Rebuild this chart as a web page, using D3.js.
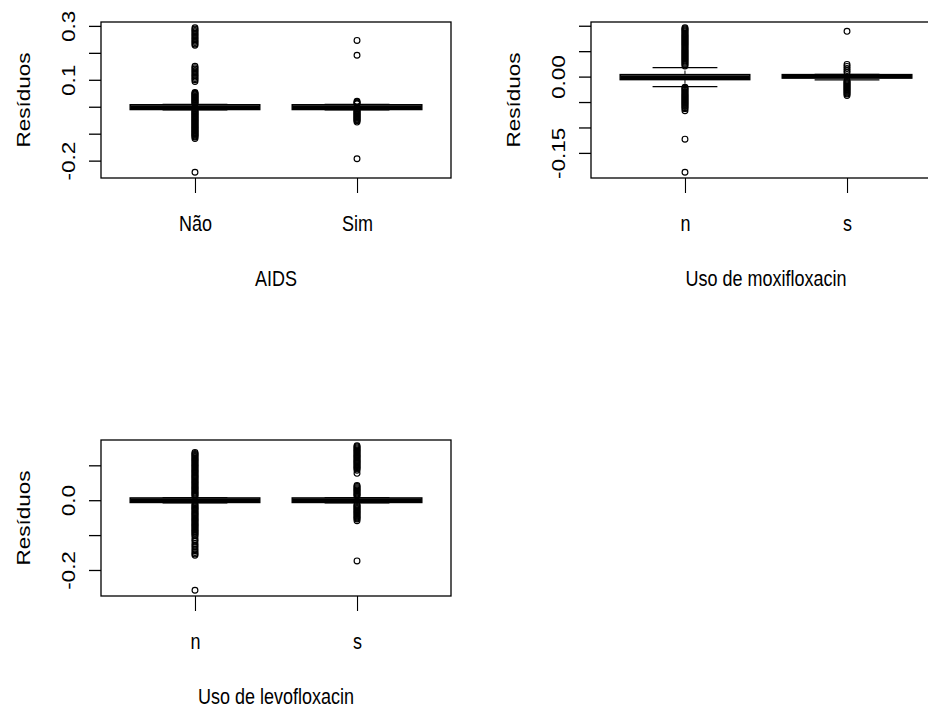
<!DOCTYPE html>
<html>
<head>
<meta charset="utf-8">
<script src="https://cdn.jsdelivr.net/npm/d3@7"></script>
<style>
  html, body { margin: 0; padding: 0; background: #fff; }
  svg { display: block; }
  text { font-family: "Liberation Sans", Arial, Helvetica, sans-serif; fill: #000; }
</style>
</head>
<body>
<svg id="chart" width="928" height="708"></svg>
<script>
// ---------- data ----------
// box statistics per group: [lower whisker, Q1, median, Q3, upper whisker]
const yTitle = "Resíduos";

const aidsCategories = ["Não", "Sim"];
const aidsTitle = "AIDS";
const aidsBoxes = [
  [-0.0115, -0.0105, -0.0015, 0.0075, 0.0085],
  [-0.0115, -0.0105, -0.0015, 0.0075, 0.0085]
];
const aidsOutNao = [
  0.293, 0.288, 0.283, 0.278, 0.273, 0.268, 0.263, 0.258, 0.253, 0.248,
  0.243, 0.238, 0.233, 0.228,
  0.150, 0.145, 0.140, 0.135, 0.130, 0.125, 0.120, 0.115, 0.110, 0.105,
  0.100, 0.094,
  0.053, 0.050, 0.047, 0.044, 0.041, 0.038, 0.035, 0.032, 0.029, 0.026,
  0.023, 0.020, 0.017, 0.014, 0.011,
  -0.013, -0.016, -0.019, -0.022, -0.025, -0.028, -0.031, -0.034, -0.037,
  -0.040, -0.043, -0.046, -0.049, -0.052, -0.055, -0.058, -0.061, -0.064,
  -0.067, -0.070, -0.073, -0.076, -0.079, -0.082, -0.085, -0.088, -0.091,
  -0.094, -0.097, -0.100, -0.103, -0.106, -0.109, -0.112, -0.118,
  -0.243
];
const aidsOutSim = [
  0.246, 0.191,
  0.020, 0.017, 0.014, 0.011,
  -0.013, -0.016, -0.019, -0.022, -0.025, -0.028, -0.031, -0.034, -0.037,
  -0.040, -0.043, -0.046, -0.049, -0.052, -0.057,
  -0.193
];
const aidsYTicks = [-0.2, -0.1, 0.0, 0.1, 0.2, 0.3];
const aidsYLabels = ["-0.2", "", "", "0.1", "", "0.3"];

const moxiCategories = ["n", "s"];
const moxiTitle = "Uso de moxifloxacin";
const moxiBoxes = [
  [-0.0196, -0.006, -0.001, 0.004, 0.0176],
  [-0.0065, -0.003, 0.0005, 0.004, 0.0045]
];
const moxiOutN = [
  0.096, 0.094, 0.092, 0.090, 0.088, 0.086, 0.084, 0.082, 0.080, 0.078,
  0.076, 0.074, 0.072, 0.070, 0.068, 0.066, 0.064, 0.062, 0.060, 0.058,
  0.056, 0.054, 0.052, 0.050, 0.048, 0.046, 0.044, 0.042, 0.040, 0.038,
  0.036, 0.034, 0.032, 0.030, 0.028, 0.026, 0.024, 0.021,
  -0.021, -0.023, -0.025, -0.027, -0.029, -0.031, -0.033, -0.035, -0.037,
  -0.039, -0.041, -0.043, -0.045, -0.047, -0.049, -0.051, -0.053, -0.055,
  -0.057, -0.059, -0.061, -0.063, -0.067,
  -0.123, -0.188
];
const moxiOutS = [
  0.089,
  0.024, 0.020, 0.016, 0.012, 0.008,
  -0.008, -0.010, -0.012, -0.014, -0.016, -0.018, -0.020, -0.022, -0.024,
  -0.026, -0.028, -0.030, -0.032, -0.034, -0.037
];
const moxiYTicks = [-0.15, -0.10, -0.05, 0.00, 0.05, 0.10];
const moxiYLabels = ["-0.15", "", "", "0.00", "", ""];

const levoCategories = ["n", "s"];
const levoTitle = "Uso de levofloxacin";
const levoBoxes = [
  [-0.0075, -0.0066, 0.0, 0.0066, 0.0075],
  [-0.0075, -0.0066, 0.0, 0.0066, 0.0075]
];
const levoOutN = [
  0.137, 0.134, 0.131, 0.128, 0.125, 0.122, 0.119, 0.116, 0.113, 0.110,
  0.107, 0.104, 0.101, 0.098, 0.095, 0.092, 0.089, 0.086, 0.083, 0.080,
  0.077, 0.074, 0.071, 0.068, 0.065, 0.062, 0.059, 0.056, 0.053, 0.050,
  0.047, 0.044, 0.041, 0.038, 0.035, 0.032, 0.029, 0.026, 0.023, 0.020,
  0.017, 0.014, 0.011,
  -0.011, -0.014, -0.017, -0.020, -0.023, -0.026, -0.029, -0.032, -0.035,
  -0.038, -0.041, -0.044, -0.047, -0.050, -0.053, -0.056, -0.059, -0.062,
  -0.065, -0.068, -0.071, -0.074, -0.077, -0.080, -0.083, -0.086, -0.089,
  -0.092, -0.095, -0.098,
  -0.101, -0.107, -0.113, -0.117, -0.124, -0.129, -0.134, -0.140, -0.145,
  -0.150, -0.154, -0.158,
  -0.258
];
const levoOutS = [
  0.156, 0.153, 0.150, 0.147, 0.144, 0.141, 0.138, 0.135, 0.132, 0.129,
  0.126, 0.123, 0.120, 0.117, 0.114, 0.111, 0.108, 0.105, 0.102, 0.099,
  0.096, 0.093, 0.090, 0.086, 0.077,
  0.042, 0.039, 0.036, 0.033, 0.030, 0.027, 0.024, 0.021, 0.018, 0.015, 0.012,
  -0.012, -0.015, -0.018, -0.021, -0.024, -0.027, -0.030, -0.033, -0.036,
  -0.039, -0.042, -0.045, -0.048, -0.051, -0.054, -0.059,
  -0.174
];
const levoYTicks = [-0.2, -0.1, 0.0, 0.1];
const levoYLabels = ["-0.2", "", "0.0", ""];

// ---------- layout ----------
const W = 350, H = 156;
const SX = 1.25;           // vertical stretch of the text glyphs
const panels = [
  { cats: aidsCategories, boxes: aidsBoxes, outs: [aidsOutNao, aidsOutSim],
    ticks: aidsYTicks, labels: aidsYLabels, title: aidsTitle, left: 101, top: 22 },
  { cats: moxiCategories, boxes: moxiBoxes, outs: [moxiOutN, moxiOutS],
    ticks: moxiYTicks, labels: moxiYLabels, title: moxiTitle, left: 591, top: 22 },
  { cats: levoCategories, boxes: levoBoxes, outs: [levoOutN, levoOutS],
    ticks: levoYTicks, labels: levoYLabels, title: levoTitle, left: 101, top: 440 }
];

const svg = d3.select("#chart");

panels.forEach(p => {
  const g = svg.append("g");

  const x = d3.scaleLinear().domain([0.42, 2.58]).range([p.left, p.left + W]);
  const all = p.boxes.flat().concat(p.outs.flat());
  const [lo, hi] = d3.extent(all);
  const pad = (hi - lo) * 0.04;
  const y = d3.scaleLinear().domain([lo - pad, hi + pad]).range([p.top + H, p.top]);

  // boxes
  p.boxes.forEach((b, i) => {
    const [wl, q1, med, q3, wh] = b;
    const c = i + 1;
    const bg = g.append("g");
    // whiskers
    bg.append("line").attr("x1", x(c)).attr("x2", x(c))
      .attr("y1", y(q3)).attr("y2", y(wh))
      .attr("stroke", "#000").attr("stroke-width", 1).attr("stroke-dasharray", "4,3");
    bg.append("line").attr("x1", x(c)).attr("x2", x(c))
      .attr("y1", y(q1)).attr("y2", y(wl))
      .attr("stroke", "#000").attr("stroke-width", 1).attr("stroke-dasharray", "4,3");
    // staples
    [wl, wh].forEach(v => {
      bg.append("line").attr("x1", x(c - 0.2)).attr("x2", x(c + 0.2))
        .attr("y1", y(v)).attr("y2", y(v))
        .attr("stroke", "#000").attr("stroke-width", 1.3);
    });
    // box
    bg.append("rect")
      .attr("x", x(c - 0.4)).attr("width", x(c + 0.4) - x(c - 0.4))
      .attr("y", y(q3)).attr("height", y(q1) - y(q3))
      .attr("fill", "#fff").attr("stroke", "#000").attr("stroke-width", 1.4);
    // median
    bg.append("line").attr("x1", x(c - 0.4)).attr("x2", x(c + 0.4))
      .attr("y1", y(med)).attr("y2", y(med))
      .attr("stroke", "#000").attr("stroke-width", 3.75);
  });

  // outliers
  p.outs.forEach((vals, i) => {
    g.append("g").selectAll("circle").data(vals).join("circle")
      .attr("cx", x(i + 1)).attr("cy", d => y(d)).attr("r", 2.9)
      .attr("fill", "none").attr("stroke", "#000").attr("stroke-width", 1.15);
  });

  // frame
  g.append("rect").attr("x", p.left).attr("y", p.top).attr("width", W).attr("height", H)
    .attr("fill", "none").attr("stroke", "#000").attr("stroke-width", 1.3);

  // y axis
  const ya = g.append("g").attr("transform", `translate(${p.left},0)`)
    .call(d3.axisLeft(y).tickValues(p.ticks).tickSize(12).tickSizeOuter(0)
      .tickFormat((d, i) => p.labels[i]));
  ya.select(".domain").remove();
  ya.attr("font-size", null).attr("font-family", null);
  ya.selectAll(".tick line").attr("stroke-width", 1.3);
  ya.selectAll(".tick text")
    .attr("x", null).attr("dy", null).attr("fill", "#000")
    .attr("text-anchor", "middle").style("font-size", "18px")
    .attr("transform", `translate(-26.5,0) rotate(-90) scale(${SX},1)`);

  // x axis
  const xa = g.append("g").attr("transform", `translate(0,${p.top + H})`)
    .call(d3.axisBottom(x).tickValues([1, 2]).tickSize(15).tickSizeOuter(0)
      .tickFormat((d, i) => p.cats[i]));
  xa.select(".domain").remove();
  xa.attr("font-size", null).attr("font-family", null);
  xa.selectAll(".tick line").attr("stroke-width", 1.1);
  xa.selectAll(".tick text")
    .attr("y", null).attr("dy", null).attr("fill", "#000")
    .attr("text-anchor", "middle").style("font-size", "18px")
    .attr("transform", `translate(0,52.5) scale(1,${SX})`);

  // axis titles
  g.append("text")
    .attr("text-anchor", "middle").style("font-size", "18px")
    .attr("transform", `translate(${p.left + W / 2},${p.top + H + 108}) scale(1,${SX})`)
    .text(p.title);
  g.append("text")
    .attr("text-anchor", "middle").style("font-size", "18px")
    .attr("transform", `translate(${p.left - 71},${p.top + H / 2}) rotate(-90) scale(${SX},1)`)
    .text(yTitle);
});
</script>
</body>
</html>
